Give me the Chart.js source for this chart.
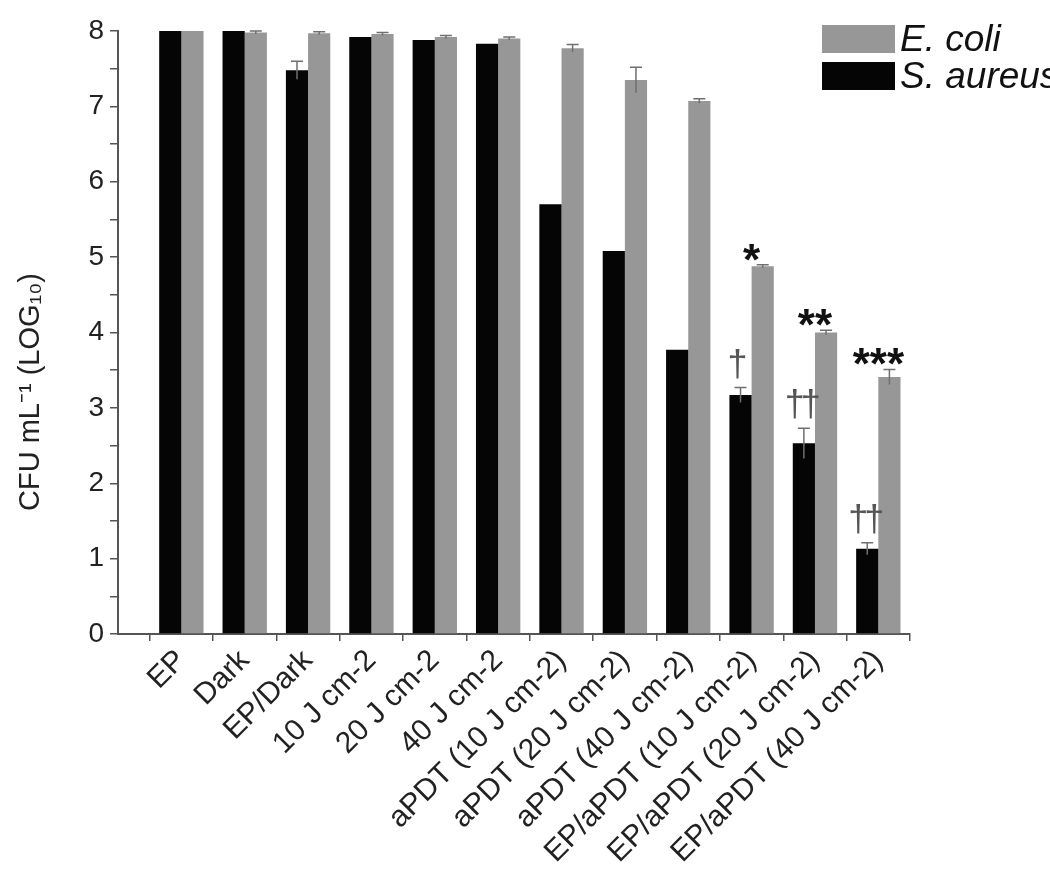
<!DOCTYPE html>
<html>
<head>
<meta charset="utf-8">
<script src="https://cdn.jsdelivr.net/npm/chart.js@4.4.0/dist/chart.umd.min.js"></script>
<style>
  html, body { margin: 0; padding: 0; background: #fff; overflow: hidden; }
  #chart { display: block; }
</style>
</head>
<body>
<canvas id="chart" width="1050" height="878"></canvas>
<script>
const categories = ['EP', 'Dark', 'EP/Dark', '10 J cm-2', '20 J cm-2', '40 J cm-2',
  'aPDT (10 J cm-2)', 'aPDT (20 J cm-2)', 'aPDT (40 J cm-2)',
  'EP/aPDT (10 J cm-2)', 'EP/aPDT (20 J cm-2)', 'EP/aPDT (40 J cm-2)'];

const aureus = [8.0, 8.0, 7.48, 7.92, 7.88, 7.83, 5.70, 5.08, 3.77, 3.17, 2.53, 1.13];
const aureusErr = [0, 0, 0.12, 0, 0, 0, 0, 0, 0, 0.1, 0.2, 0.08];
const ecoli = [8.0, 7.98, 7.97, 7.96, 7.92, 7.90, 7.77, 7.35, 7.07, 4.88, 4.0, 3.41];
const ecoliErr = [0, 0.02, 0.02, 0.02, 0.02, 0.02, 0.05, 0.17, 0.03, 0.02, 0.03, 0.1];

const starMarks = ['', '', '', '', '', '', '', '', '', '*', '**', '***'];
const daggerMarks = ['', '', '', '', '', '', '', '', '', '†', '††', '††'];

const yTicks = [0, 1, 2, 3, 4, 5, 6, 7, 8];

const FONT = '"Liberation Sans", Arial, sans-serif';
const BLACK = '#050505';
const GREY = '#979797';

const extras = {
    id: 'extras',
    afterDatasetsDraw(chart) {
        const ctx = chart.ctx;
        const y = chart.scales.y;
        const x = chart.scales.x;
        // error bars
        [[0, aureus, aureusErr], [1, ecoli, ecoliErr]].forEach(([di, vals, errs]) => {
            const meta = chart.getDatasetMeta(di);
            meta.data.forEach((bar, i) => {
                if (!errs[i]) return;
                const top = y.getPixelForValue(vals[i] + errs[i]);
                const bot = y.getPixelForValue(vals[i] - errs[i]);
                ctx.save();
                ctx.strokeStyle = '#6f6f6f';
                ctx.lineWidth = 1.5;
                ctx.beginPath();
                ctx.moveTo(bar.x, top);
                ctx.lineTo(bar.x, bot);
                ctx.moveTo(bar.x - 6, top);
                ctx.lineTo(bar.x + 6, top);
                ctx.stroke();
                ctx.restore();
            });
        });
        // significance marks
        ctx.save();
        ctx.textAlign = 'center';
        ctx.textBaseline = 'alphabetic';
        starMarks.forEach((s, i) => {
            if (!s) return;
            const top = y.getPixelForValue(ecoli[i] + ecoliErr[i]);
            ctx.fillStyle = '#111';
            ctx.font = 'bold 44px ' + FONT;
            ctx.fillText(s, x.getPixelForValue(i), top + 10);
        });
        ctx.letterSpacing = '-4px';
        daggerMarks.forEach((s, i) => {
            if (!s) return;
            const bar = chart.getDatasetMeta(0).data[i];
            const top = y.getPixelForValue(aureus[i] + aureusErr[i]);
            ctx.fillStyle = '#555';
            ctx.font = '36px ' + FONT;
            ctx.fillText(s, bar.x - 5 + (s.length > 1 ? 2 : 0), top - 12);
        });
        ctx.restore();
    },
    afterDraw(chart) {
        const ctx = chart.ctx;
        // y axis title
        ctx.save();
        ctx.translate(31, 392);
        ctx.rotate(-Math.PI / 2);
        ctx.fillStyle = '#222';
        ctx.font = '29px ' + FONT;
        ctx.textAlign = 'center';
        ctx.textBaseline = 'middle';
        ctx.fillText('CFU mL\u207B\u00B9 (LOG\u2081\u2080)', 0, 0);
        ctx.restore();
        // legend
        const items = [chart.data.datasets[1], chart.data.datasets[0]];
        ctx.save();
        items.forEach((ds, k) => {
            const top = 25 + k * 37;
            ctx.fillStyle = ds.backgroundColor;
            ctx.fillRect(822, top, 73, 28);
            ctx.fillStyle = '#111';
            ctx.font = 'italic 37px ' + FONT;
            ctx.textBaseline = 'middle';
            ctx.textAlign = 'left';
            ctx.fillText(ds.label, 900, top + 16);
        });
        ctx.restore();
    }
};

new Chart(document.getElementById('chart'), {
    type: 'bar',
    data: {
        datasets: [
            {
                label: 'S. aureus',
                data: aureus.map((v, i) => ({ x: i, y: v })),
                backgroundColor: BLACK,
                categoryPercentage: 0.7,
                barPercentage: 1.0
            },
            {
                label: 'E. coli',
                data: ecoli.map((v, i) => ({ x: i, y: v })),
                backgroundColor: GREY,
                categoryPercentage: 0.7,
                barPercentage: 1.0
            }
        ]
    },
    options: {
        responsive: false,
        animation: false,
        layout: { padding: { top: 31, right: 140, left: 0, bottom: 0 } },
        plugins: {
            legend: { display: false },
            tooltip: { enabled: false }
        },
        scales: {
            x: {
                type: 'linear',
                min: -1,
                max: 11.5,
                offset: false,
                afterBuildTicks: (scale) => {
                    scale.ticks = categories.map((c, i) => ({ value: i }));
                },
                afterFit: (scale) => { scale.height = 244; },
                grid: {
                    offset: true,
                    drawOnChartArea: false,
                    tickLength: 7,
                    color: '#555',
                    lineWidth: 1.5
                },
                border: { color: '#555', width: 2 },
                ticks: {
                    autoSkip: false,
                    maxRotation: 45,
                    minRotation: 45,
                    padding: 2,
                    color: '#222',
                    font: { family: FONT, size: 30 },
                    callback: (v) => categories[v]
                }
            },
            y: {
                min: 0,
                max: 8,
                afterBuildTicks: (scale) => {
                    const t = [];
                    yTicks.forEach((v, i) => {
                        t.push({ value: v });
                        if (i < yTicks.length - 1) t.push({ value: v + 0.5 });
                    });
                    scale.ticks = t;
                },
                afterFit: (scale) => { scale.width = 118; },
                grid: {
                    drawOnChartArea: false,
                    tickLength: 8,
                    color: '#555',
                    lineWidth: 1.5
                },
                border: { color: '#555', width: 2 },
                ticks: {
                    padding: 6,
                    color: '#222',
                    font: { family: FONT, size: 28 },
                    callback: (v) => (Number.isInteger(v) ? String(v) : '')
                }
            }
        }
    },
    plugins: [extras]
});
</script>
</body>
</html>
